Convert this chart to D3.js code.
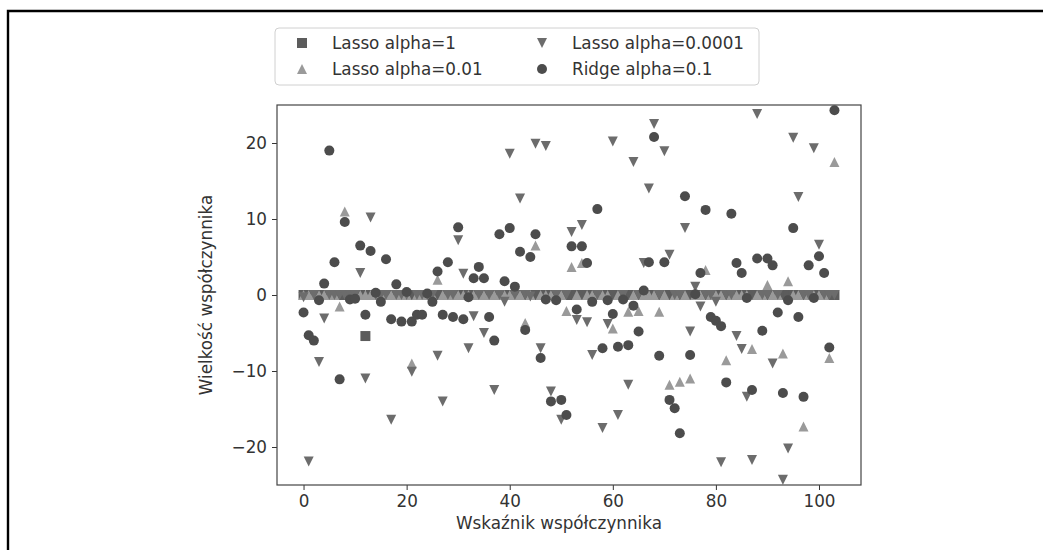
<!DOCTYPE html>
<html>
<head>
<meta charset="utf-8">
<script src="https://cdn.jsdelivr.net/npm/d3@7"></script>
<style>
  html, body { margin: 0; padding: 0; background: #fff; }
  svg { display: block; }
  text { font-family: "DejaVu Sans", sans-serif; }
</style>
</head>
<body>
<svg id="chart" width="1043" height="550"></svg>
<script>
// ---- data ----
const seriesLabels = ["Lasso alpha=1", "Lasso alpha=0.01", "Lasso alpha=0.0001", "Ridge alpha=0.1"];
const xTicks = [0, 20, 40, 60, 80, 100];
const yTicks = [-20, -10, 0, 10, 20];
const xLabel = "Wskaźnik współczynnika";
const yLabel = "Wielkość współczynnika";

const lasso1 = [
  0, 0, 0, 0, 0, 0, 0, 0, 0, 0,
  0, 0, -5.4, 0, 0, 0, 0, 0, 0, 0,
  0, 0, 0, 0, 0, 0, 0, 0, 0, 0,
  0, 0, 0, 0, 0, 0, 0, 0, 0, 0,
  0, 0, 0, 0, 0, 0, 0, 0, 0, 0,
  0, 0, 0, 0, 0, 0, 0, 0, 0, 0,
  0, 0, 0, 0, 0, 0, 0, 0, 0, 0,
  0, 0, 0, 0, 0, 0, 0, 0, 0, 0,
  0, 0, 0, 0, 0, 0, 0, 0, 0, 0,
  0, 0, 0, 0, 0, 0, 0, 0, 0, 0,
  0, 0, 0, 0
];
const lasso001 = [
  0, 0, 0, 0, 0, 0, 0, -1.5, 11.0, 0,
  0, 0, 0, 0, 0, 0, 0, 0, 0, 0,
  0, -9.0, 0, 0, 0, 0, 2.0, 0, 0, 0,
  0, 0, 0, 0, 0, 0, 0, 0, 0, 0,
  0, 0, 0, -3.7, 0, 6.5, 0, 0, 0, 0,
  0, -2.1, 3.7, 0, 4.2, 0, 0, 0, 0, 0,
  -4.4, 0, 0, -2.2, 0, -2.1, 0, 0, 0, -2.2,
  0, -11.8, 0, -11.4, 0, -11.0, 0, 0, 3.3, 0,
  0, 0, -8.6, 0, 0, 0, 0, -7.1, 0, 0,
  1.3, 0, 0, -7.7, 1.8, 0, 0, -17.3, 0, 0,
  0, 0, -8.3, 17.5
];
const lasso00001 = [
  -0.3, -21.9, 0, -8.8, -3.1, 0, 0, 0, 0, 0,
  0, 2.9, -11.0, 10.2, 0, 0, 0, -16.4, 0, 0,
  0, -10.1, 0, 0, 0, 0, -8.0, -14.0, 0, 0,
  7.2, 2.8, -7.0, -2.8, 0, -5.0, 0, -12.5, 0, -0.9,
  18.6, 0, 12.7, 0, -0.2, 19.9, -7.0, 19.6, -12.7, 0,
  -16.4, 0, 8.3, -3.3, 9.2, -3.6, -7.9, 0, -17.5, -3.8,
  20.2, -15.8, 0, -11.8, 17.5, 0, 4.2, 14.0, 22.5, 0,
  18.9, 5.3, 0, 0, 8.8, -4.8, 1.1, -1.5, 0, 0,
  -0.9, -22.0, 0, 0, -5.4, -7.1, -13.4, -21.7, 23.8, 0,
  0, -9.0, 0, -24.3, -20.2, 20.7, 12.9, 0, 0, 19.3,
  6.6, 0, 0, 0
];
const ridge01 = [
  -2.3, -5.3, -6.0, -0.7, 1.5, 19.0, 4.3, -11.1, 9.6, -0.6,
  -0.5, 6.5, -2.6, 5.8, 0.3, -0.9, 4.7, -3.2, 1.4, -3.5,
  0.4, -3.5, -2.6, -2.6, 0.2, -0.9, 3.1, -2.6, 4.3, -2.9,
  8.9, -3.2, -0.3, 2.2, 3.7, 2.2, -2.9, -6.0, 8.0, 1.8,
  8.8, 1.1, 5.7, -4.6, 5.0, 8.0, -8.3, -0.6, -14.0, -0.7,
  -13.8, -15.8, 6.4, -1.9, 6.4, 4.2, -0.9, 11.3, -7.0, -0.7,
  -2.5, -6.8, -0.6, -6.6, -1.4, -4.8, 0.6, 4.3, 20.8, -8.0,
  4.3, -13.8, -14.9, -18.2, 13.0, -7.9, 0.1, 2.9, 11.2, -2.9,
  -3.4, -4.1, -11.5, 10.7, 4.2, 2.9, -0.4, -12.5, 4.8, -4.7,
  4.8, 3.9, -2.3, -12.9, -0.7, 8.8, -2.9, -13.4, 3.9, -0.4,
  5.1, 2.9, -6.9, 24.3
];

// ---- styles ----
const colors = ["#5c5c5c", "#9a9a9a", "#6c6c6c", "#4c4c4c"];
const shapes = ["square", "up", "down", "circle"];
const seriesValues = [lasso1, lasso001, lasso00001, ridge01];
const MS = 10;

function markerPath(shape, s) {
  const h = s / 2;
  const p = d3.path();
  if (shape === "square") {
    p.rect(-h, -h, s, s);
  } else if (shape === "up") {
    p.moveTo(0, -h); p.lineTo(-h, h); p.lineTo(h, h); p.closePath();
  } else if (shape === "down") {
    p.moveTo(0, h); p.lineTo(-h, -h); p.lineTo(h, -h); p.closePath();
  } else {
    p.arc(0, 0, h, 0, 2 * Math.PI); p.closePath();
  }
  return p.toString();
}

const svg = d3.select("#chart");
svg.append("rect").attr("width", 1043).attr("height", 550).attr("fill", "#fff");

// figure border
svg.append("path")
  .attr("d", "M8,552V11H1045")
  .attr("fill", "none").attr("stroke", "#000").attr("stroke-width", 2.4);

const plot = { left: 277, right: 861, top: 105, bottom: 485 };
const n = ridge01.length;
const pad = (n - 1) * 0.05;
const x = d3.scaleLinear().domain([-pad, (n - 1) + pad]).range([plot.left, plot.right]);
const y = d3.scaleLinear().domain([-25, 25]).range([plot.bottom, plot.top]);

// clip
svg.append("defs").append("clipPath").attr("id", "clip")
  .append("rect").attr("x", plot.left).attr("y", plot.top)
  .attr("width", plot.right - plot.left).attr("height", plot.bottom - plot.top);

const marks = svg.append("g").attr("clip-path", "url(#clip)");
seriesValues.forEach((vals, si) => {
  marks.append("g")
    .selectAll("path")
    .data(vals)
    .join("path")
    .attr("transform", (d, i) => `translate(${x(i)},${y(d)})`)
    .attr("d", markerPath(shapes[si], MS))
    .attr("fill", colors[si]);
});

// axes
const fontSize = "16.8px";
const xAxis = svg.append("g")
  .attr("transform", `translate(0,${plot.bottom})`)
  .call(d3.axisBottom(x).tickValues(xTicks).tickSize(5).tickPadding(5).tickSizeOuter(0));
const yAxis = svg.append("g")
  .attr("transform", `translate(${plot.left},0)`)
  .call(d3.axisLeft(y).tickValues(yTicks).tickSize(5).tickPadding(5).tickSizeOuter(0));
[xAxis, yAxis].forEach(a => {
  a.select(".domain").remove();
  a.selectAll(".tick line").attr("stroke", "#333").attr("stroke-width", 1);
  a.selectAll(".tick text").attr("fill", "#333").style("font-size", fontSize)
    .style("font-family", "DejaVu Sans, sans-serif");
});

// frame
svg.append("rect")
  .attr("x", plot.left).attr("y", plot.top)
  .attr("width", plot.right - plot.left).attr("height", plot.bottom - plot.top)
  .attr("fill", "none").attr("stroke", "#444").attr("stroke-width", 1.2);

// axis labels
svg.append("text")
  .attr("x", 559).attr("y", 529)
  .attr("text-anchor", "middle").attr("fill", "#333").style("font-size", fontSize)
  .text(xLabel);
svg.append("text")
  .attr("transform", `translate(212,${(plot.top + plot.bottom) / 2}) rotate(-90)`)
  .attr("text-anchor", "middle").attr("fill", "#333").style("font-size", fontSize)
  .text(yLabel);

// legend
const legend = svg.append("g");
legend.append("rect")
  .attr("x", 275).attr("y", 28).attr("width", 484).attr("height", 57).attr("rx", 4)
  .attr("fill", "#fff").attr("stroke", "#d0d0d0").attr("stroke-width", 1);
const legendPos = [[302, 43], [302, 69], [542, 43], [542, 69]];
seriesLabels.forEach((lab, si) => {
  const [lx, ly] = legendPos[si];
  legend.append("path")
    .attr("transform", `translate(${lx},${ly})`)
    .attr("d", markerPath(shapes[si], MS))
    .attr("fill", colors[si]);
  legend.append("text")
    .attr("x", lx + 30).attr("y", ly).attr("dy", "0.35em")
    .attr("fill", "#333").style("font-size", fontSize)
    .text(lab);
});
</script>
</body>
</html>
